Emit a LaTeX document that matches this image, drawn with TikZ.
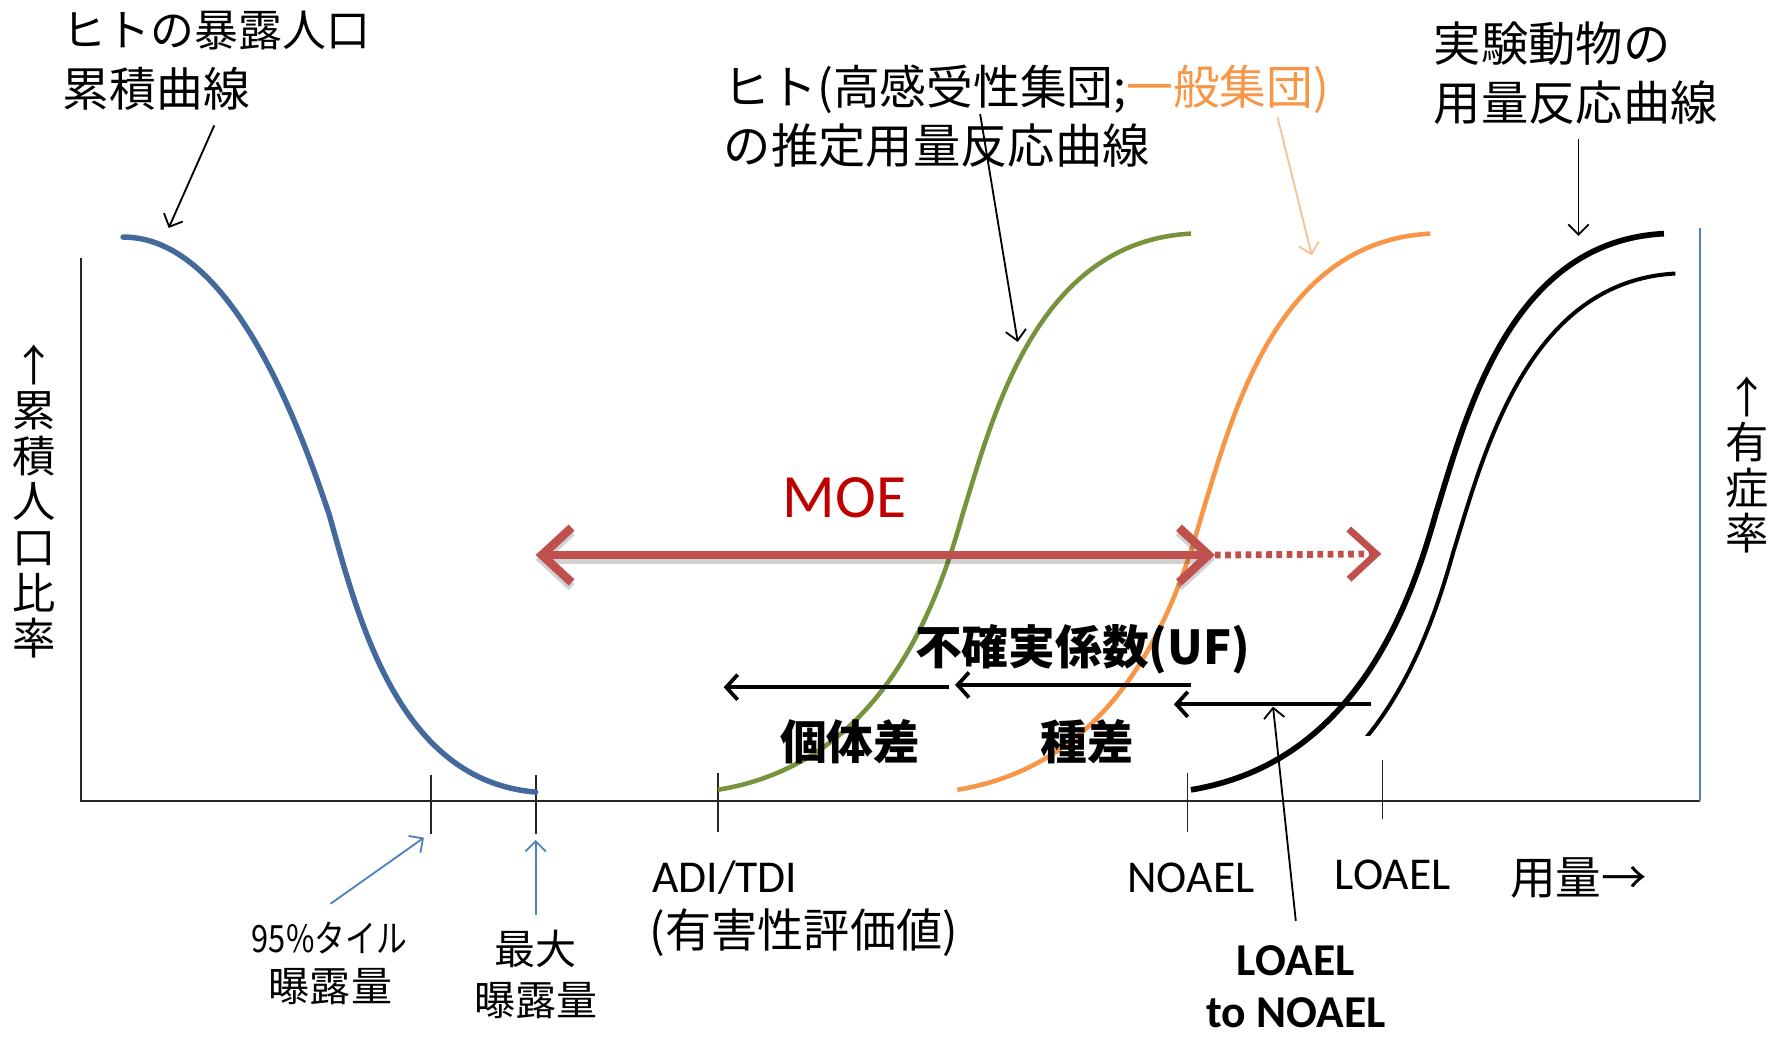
\documentclass[tikz,border=0pt]{standalone}
\usepackage{fontspec}
\usepackage{graphicx}
\setmainfont{Carlito}
\newfontfamily\jp{Noto Sans CJK JP}
\usetikzlibrary{arrows.meta}
\definecolor{cblue}{HTML}{44699C}
\definecolor{axblue}{HTML}{4F81BD}
\definecolor{cgreen}{HTML}{77933C}
\definecolor{corange}{HTML}{F79646}
\definecolor{lorange}{HTML}{FAC090}
\definecolor{mred}{HTML}{C0504D}
\definecolor{dred}{HTML}{C00000}
\newcommand{\fsz}[2]{\fontsize{#1pt}{#2pt}\selectfont}
\tikzset{moehead/.tip={Straight Barb[length=26pt,width=48pt]}}
\begin{document}
\begin{tikzpicture}[x=1pt,y=-1pt,
  txt/.style={inner sep=0pt, font=\jp\fsz{40}{50}},
  lat/.style={inner sep=0pt, font=\fsz{40}{50}},
  note/.style={line width=1.6pt, -{Straight Barb[length=9pt,width=18pt]}},
  ufarrow/.style={line width=3.3pt, -{Straight Barb[length=10pt,width=22pt]}},
  tickline/.style={line width=1.5pt, black!85}
]
\useasboundingbox (0,0) rectangle (1568,911);

% axes
\coordinate (O) at (71,703);
\coordinate (Ytop) at (71,226);
\coordinate (Xend) at (1492,703);
\coordinate (Rtop) at (1492,200);
\draw[line width=1.8pt, black!85] (Ytop) -- (O) -- (Xend);
\draw[line width=1.6pt, axblue] (Xend) -- (Rtop);

% ticks
\draw[tickline] (378,680) -- (378,732);
\draw[tickline] (470,680) -- (470,732);
\draw[tickline] (630,678) -- (630,730);
\draw[tickline] (1042,678) -- (1042,730);
\draw[tickline] (1213,667) -- (1213,719);

% blue exposure curve
\draw[cblue, line width=4.8pt, line cap=round] (108,208) .. controls (200,208) and (259,362) .. (289,452) .. controls (315,545) and (350,685) .. (470,695);

% sigmoid curves
\draw[cgreen, line width=4pt, shift={(630,693)}] (0,0) .. controls (140,-23) and (190,-153) .. (215,-243) .. controls (242,-330) and (280,-481) .. (415,-488);
\draw[corange, line width=4pt, shift={(840,693)}] (0,0) .. controls (140,-23) and (190,-153) .. (215,-243) .. controls (242,-330) and (280,-481) .. (415,-488);
\draw[black, line width=5pt, shift={(1045,693)}] (0,0) .. controls (140,-23) and (190,-153) .. (215,-243) .. controls (242,-330) and (280,-481) .. (415,-488);
\begin{scope}
\clip (1100,100) rectangle (1600,645);
\draw[black, line width=3.5pt, shift={(1060,728)}] (0,0) .. controls (140,-23) and (190,-153) .. (215,-243) .. controls (242,-330) and (280,-481) .. (410,-488);
\end{scope}

% top labels
\node[txt, anchor=west, font=\jp\fsz{38.5}{50}] (expA) at (55,27) {ヒトの暴露人口};
\node[txt, anchor=west, font=\jp\fsz{41}{50}] (expB) at (55,78) {累積曲線};
\coordinate (expS) at (188,110);
\coordinate (expT) at (148,200);
\draw[note] (expS) -- (expT);

\node[txt, anchor=west, font=\jp\fsz{41}{50}] (humA) at (635,78) {ヒト(高感受性集団;\textcolor{corange}{一般集団)}};
\node[txt, anchor=west, font=\jp\fsz{41.5}{50}] (humB) at (635,128) {の推定用量反応曲線};
\coordinate (humS) at (860,100);
\coordinate (humT) at (893,300);
\draw[note] (humS) -- (humT);
\coordinate (genS) at (1121,103);
\coordinate (genT) at (1151,224);
\draw[note, lorange] (genS) -- (genT);

\node[txt, anchor=west, font=\jp\fsz{41.5}{50}] (aniA) at (1258,38) {実験動物の};
\node[txt, anchor=west, font=\jp\fsz{41.5}{50}] (aniB) at (1258,90) {用量反応曲線};
\coordinate (aniS) at (1385,122);
\coordinate (aniT) at (1385,207);
\draw[note] (aniS) -- (aniT);

% axis labels
\node[txt, align=center, font=\jp\fsz{38}{40}] (ylab) at (30,440) {↑\\累\\積\\人\\口\\比\\率};
\node[txt, align=center, font=\jp\fsz{38}{40}] (rlab) at (1533,408) {↑\\有\\症\\率};

% MOE
\node[lat, font=\fsz{54}{60}, text=dred] (moe) at (741,437) {MOE};
\coordinate (moeL) at (470,487);
\coordinate (moeM) at (1066,487);
\coordinate (moeR) at (1212,486);
\draw[line width=7.5pt, black, opacity=0.18, moehead-moehead] ([yshift=-4pt]moeL) -- ([yshift=-4pt]moeM);
\draw[line width=7.5pt, mred, moehead-moehead] (moeL) -- (moeM);
\draw[line width=6pt, mred, dash pattern=on 5pt off 4pt, -{Straight Barb[length=24pt,width=44pt]}] (moeM) -- (moeR);

% UF
\node[txt, font=\jp\bfseries\fsz{41}{50}] (uf) at (950,570) {不確実係数(UF)};
\coordinate (u1s) at (833,603);
\coordinate (u1e) at (635,603);
\coordinate (u2s) at (1045,601);
\coordinate (u2e) at (838,601);
\coordinate (u3s) at (1203,618);
\coordinate (u3e) at (1030,618);
\draw[ufarrow] (u1s) -- (u1e);
\draw[ufarrow] (u2s) -- (u2e);
\draw[ufarrow] (u3s) -- (u3e);
\node[txt, font=\jp\bfseries\fsz{41}{50}] (indiv) at (746,651) {個体差};
\node[txt, font=\jp\bfseries\fsz{41}{50}] (spec) at (954,651) {種差};

% bottom labels
\node[txt, font=\jp\fsz{33}{40}] (p95a) at (289,823) {\scalebox{0.82}[1]{95\%タイル}};
\node[txt, font=\jp\fsz{36}{40}] (p95b) at (290,866) {曝露量};
\coordinate (p95S) at (290,793);
\coordinate (p95T) at (372,735);
\draw[note, axblue] (p95S) -- (p95T);

\node[txt, font=\jp\fsz{36}{40}] (maxa) at (470,833) {最大};
\node[txt, font=\jp\fsz{36}{40}] (maxb) at (470,878) {曝露量};
\coordinate (maxS) at (470,803);
\coordinate (maxT) at (470,737);
\draw[note, axblue] (maxS) -- (maxT);

\node[lat, anchor=west] (adi) at (572,770) {ADI/TDI};
\node[txt, anchor=west, font=\jp\fsz{40.5}{40}] (adib) at (570,818) {(有害性評価値)};
\node[lat] (noael) at (1045,770) {NOAEL};
\node[lat] (loael) at (1222,768) {LOAEL};
\node[txt, anchor=west] (dose) at (1325,770) {用量→};

\node[lat, font=\bfseries\fsz{40}{50}] (ltn1) at (1137,843) {LOAEL};
\node[lat, font=\bfseries\fsz{40}{50}] (ltn2) at (1137,889) {to NOAEL};
\coordinate (ltnS) at (1137,808);
\coordinate (ltnT) at (1117,620);
\draw[note] (ltnS) -- (ltnT);
\end{tikzpicture}
\end{document}
